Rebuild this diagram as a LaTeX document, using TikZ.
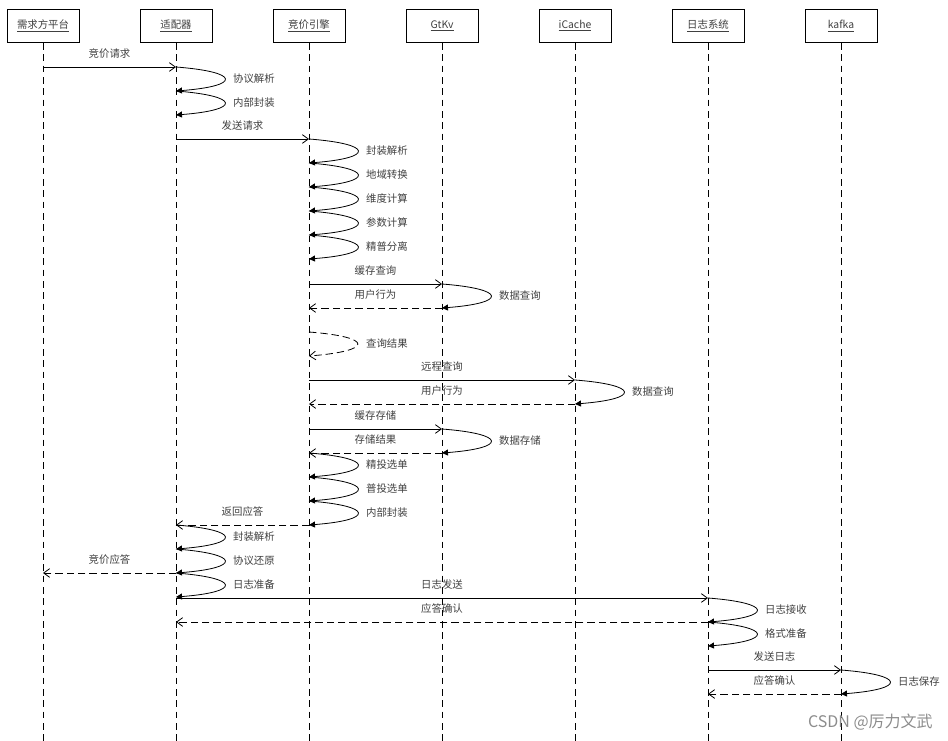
\documentclass[tikz,border=0pt]{standalone}
\usepackage{fontspec}
\setmainfont{Noto Sans CJK SC}
\usetikzlibrary{arrows.meta}
\definecolor{txt}{HTML}{404040}
\newcommand\Msg[6]{% style, from, to, y, label, name
  \draw[#1] (#2 |- 0,#4) -- node[mlbl,name=#6]{#5} (#3 |- 0,#4);}
\newcommand\SLoop[6]{% style, lifeline, y1, y2, label, name
  \draw[#1] (#2 |- 0,#3) .. controls +(65,5) and +(65,-5) .. node[slbl,name=#6]{#5} (#2 |- 0,#4);}
\begin{document}
\begin{tikzpicture}[x=0.75pt,y=-0.75pt,
  every node/.style={font=\fontsize{7.8}{9}\selectfont, text=txt},
  head/.style={draw=black, line width=0.6pt, minimum width=54pt, minimum height=25pt, inner sep=0pt, fill=white},
  life/.style={line width=0.6pt, dash pattern=on 5pt off 3.5pt},
  msg/.style={line width=0.6pt, -{Straight Barb[length=4.5pt,width=6.5pt]}},
  ret/.style={msg, dash pattern=on 5.5pt off 3pt},
  selfm/.style={line width=0.6pt, -{Triangle[length=4.5pt,width=4.5pt]}},
  selfr/.style={line width=0.6pt, dash pattern=on 5.5pt off 3pt, -{Straight Barb[length=4.5pt,width=6.5pt]}},
  mlbl/.style={midway, above=6.5pt, inner sep=0pt},
  slbl/.style={pos=0.5, anchor=west, xshift=6pt, inner sep=0pt}]
\useasboundingbox (0,0) rectangle (948,741);
% headers
\node[head] (h1) at (43,26) {\underline{需求方平台}};
\node[head] (h2) at (176,26) {\underline{适配器}};
\node[head] (h3) at (309,26) {\underline{竞价引擎}};
\node[head] (h4) at (442,26) {\underline{GtKv}};
\node[head] (h5) at (575,26) {\underline{iCache}};
\node[head] (h6) at (708,26) {\underline{日志系统}};
\node[head] (h7) at (841,26) {\underline{kafka}};
\foreach \n in {h1,h2,h3,h4,h5,h6,h7}
  \draw[life] (\n.south) -- (\n |- 0,741);
% messages
\Msg{msg}{h1}{h2}{67}{竞价请求}{m1}
\SLoop{selfm}{h2}{67}{91}{协议解析}{s1}
\SLoop{selfm}{h2}{91}{115}{内部封装}{s2}
\Msg{msg}{h2}{h3}{139}{发送请求}{m2}
\SLoop{selfm}{h3}{139}{163}{封装解析}{s3}
\SLoop{selfm}{h3}{163}{187}{地域转换}{s4}
\SLoop{selfm}{h3}{187}{211}{维度计算}{s5}
\SLoop{selfm}{h3}{211}{235}{参数计算}{s6}
\SLoop{selfm}{h3}{235}{259}{精普分离}{s7}
\Msg{msg}{h3}{h4}{284}{缓存查询}{m3}
\SLoop{selfm}{h4}{284}{308}{数据查询}{s8}
\Msg{ret}{h4}{h3}{308}{用户行为}{m4}
\SLoop{selfr}{h3}{332}{356}{查询结果}{s9}
\Msg{msg}{h3}{h5}{380}{远程查询}{m5}
\SLoop{selfm}{h5}{380}{404}{数据查询}{s10}
\Msg{ret}{h5}{h3}{404}{用户行为}{m6}
\Msg{msg}{h3}{h4}{429}{缓存存储}{m7}
\SLoop{selfm}{h4}{429}{453}{数据存储}{s11}
\Msg{ret}{h4}{h3}{453}{存储结果}{m8}
\SLoop{selfm}{h3}{453}{477}{精投选单}{s12}
\SLoop{selfm}{h3}{477}{501}{普投选单}{s13}
\SLoop{selfm}{h3}{501}{525}{内部封装}{s14}
\Msg{ret}{h3}{h2}{525}{返回应答}{m9}
\SLoop{selfm}{h2}{525}{549}{封装解析}{s15}
\SLoop{selfm}{h2}{549}{573}{协议还原}{s16}
\SLoop{selfm}{h2}{573}{597}{日志准备}{s17}
\Msg{ret}{h2}{h1}{573}{竞价应答}{m10}
\Msg{msg}{h2}{h6}{598}{日志发送}{m11}
\SLoop{selfm}{h6}{598}{622}{日志接收}{s18}
\SLoop{selfm}{h6}{622}{646}{格式准备}{s19}
\Msg{ret}{h6}{h2}{622}{应答确认}{m12}
\Msg{msg}{h6}{h7}{670}{发送日志}{m13}
\SLoop{selfm}{h7}{670}{694}{日志保存}{s20}
\Msg{ret}{h7}{h6}{694}{应答确认}{m14}
% watermark
\node[font=\fontsize{12}{14}\selectfont, text=black!45, anchor=east, inner sep=0pt] (wm) at (933,722) {CSDN @厉力文武};
\end{tikzpicture}
\end{document}
